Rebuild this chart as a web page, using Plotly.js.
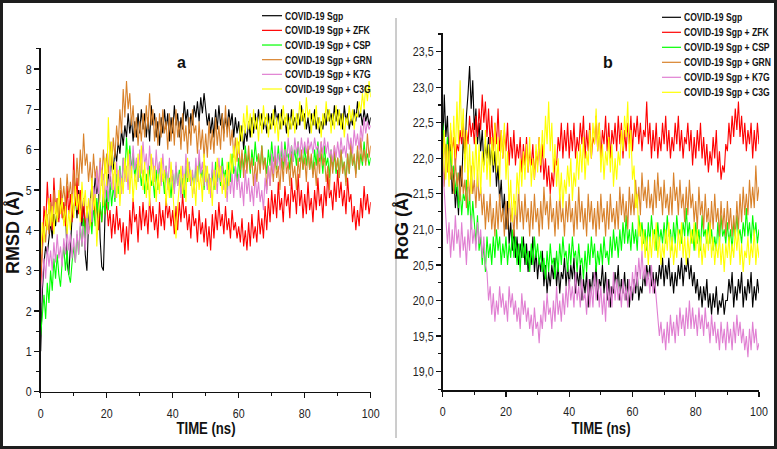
<!DOCTYPE html>
<html>
<head>
<meta charset="utf-8">
<script src="https://cdn.plot.ly/plotly-3.0.1.min.js"></script>
<style>html,body{margin:0;padding:0;background:#fff;}#chart{width:777px;height:449px;}</style>
</head>
<body>
<div id="chart"></div>
<script>
// ---------- data ----------
const SERIES_NAMES = ["COVID-19 Sgp", "COVID-19 Sgp + ZFK", "COVID-19 Sgp + CSP", "COVID-19 Sgp + GRN", "COVID-19 Sgp + K7G", "COVID-19 Sgp + C3G"];
const SERIES_COLORS = ["#000000", "#ff0000", "#00ff00", "#d9822b", "#e07fd2", "#ffff00"];
const TIME_STEP_NS = 0.5;   // sampling interval of the trajectories (0 .. 100 ns)
const X_TICKS = [0, 20, 40, 60, 80, 100];

// RMSD (Å), panel a
const rmsd_sgp = [
1.0,2.5,3.2,3.6,3.4,3.9,4.2,3.8,4.4,4.1,4.6,4.3,4.8,4.5,4.2,4.7,3.2,2.9,3.6,4.3,
4.5,4.9,4.3,5.0,4.6,4.1,4.8,3.4,3.0,4.2,4.7,5.1,4.8,5.3,4.9,5.2,3.8,3.1,3.0,4.4,
4.8,5.4,5.2,5.8,5.5,6.0,5.7,6.2,5.9,6.5,6.1,6.6,6.3,6.9,6.4,6.8,6.2,6.7,6.3,6.9,
6.4,7.0,6.5,6.9,6.3,6.8,6.2,7.1,6.6,6.9,6.3,6.7,6.1,6.8,6.4,7.0,6.5,6.9,6.2,6.8,
6.4,7.1,6.6,6.9,6.3,6.8,6.5,7.2,6.7,7.0,6.4,6.9,6.6,7.1,6.8,7.2,6.7,7.3,6.9,7.4,
7.0,6.6,6.9,6.4,6.8,6.3,7.0,6.5,7.1,6.6,6.9,6.4,6.8,6.5,7.0,6.6,6.9,6.3,6.8,6.4,
6.7,6.2,6.6,6.0,6.5,6.2,6.7,6.3,6.8,6.4,6.9,6.5,7.0,6.6,6.9,6.5,6.8,6.4,6.9,6.5,
6.9,6.6,7.1,6.7,6.9,6.5,7.0,6.6,6.8,6.4,6.9,6.5,7.0,6.6,6.8,6.5,6.9,6.6,7.1,6.7,
6.9,6.5,6.8,6.4,6.9,6.6,7.0,6.5,6.8,6.4,6.7,6.5,6.9,6.6,7.0,6.7,6.9,6.6,7.1,6.7,
7.0,6.6,6.9,6.5,7.1,6.7,6.9,6.5,6.8,6.6,7.0,6.7,7.2,6.8,6.9,6.6,7.0,6.7,6.9,6.6,6.8];
const rmsd_zfk = [
2.6,3.8,4.6,4.1,5.2,4.4,4.9,4.0,5.3,4.5,4.8,4.2,5.0,4.3,4.7,4.1,5.1,4.4,4.9,4.2,
5.9,4.6,5.3,4.4,5.0,4.2,4.8,4.0,4.6,3.9,4.5,4.1,4.9,4.3,4.7,4.0,4.6,4.2,4.9,4.4,
4.7,4.1,4.5,3.8,4.4,3.9,4.6,4.0,4.3,3.7,4.2,3.4,4.1,3.5,4.5,3.9,4.8,4.2,4.4,3.7,
4.6,4.0,4.7,4.1,4.5,3.9,4.8,4.2,4.6,4.0,4.4,3.8,4.7,4.1,4.5,4.0,4.8,4.3,4.6,4.1,
4.5,3.9,4.6,4.0,4.7,4.2,4.9,4.3,4.6,4.0,4.4,3.8,4.6,4.1,4.3,3.7,4.5,3.9,4.2,3.7,
4.3,3.6,4.1,3.5,4.4,3.8,4.5,4.0,4.7,4.1,4.4,3.9,4.6,4.0,4.3,3.8,4.5,4.0,4.2,3.8,
4.1,3.7,4.3,3.6,4.0,3.5,4.2,3.6,4.4,3.8,4.1,3.7,4.5,3.9,4.3,3.8,4.6,4.0,4.8,4.2,
5.0,4.4,4.9,4.3,5.2,4.5,4.8,4.2,5.1,4.6,4.9,4.3,5.3,4.7,5.0,4.4,5.4,4.6,5.0,4.3,
4.9,4.4,5.2,4.5,4.8,4.2,5.0,4.5,5.3,4.6,4.9,4.3,5.1,4.6,5.4,4.8,5.0,4.5,5.2,4.7,
5.5,4.8,5.2,4.6,5.0,4.4,5.3,4.7,4.9,4.2,4.6,4.0,4.5,4.1,4.8,4.3,5.1,4.5,4.9,4.4,4.7];
const rmsd_csp = [
1.4,2.0,2.4,1.8,2.7,2.2,3.0,2.5,3.3,2.8,3.4,2.9,2.6,3.2,3.6,3.0,3.5,2.9,2.7,3.2,
3.6,3.2,3.9,3.4,4.1,3.6,4.3,3.8,4.5,4.0,4.4,3.9,4.6,4.1,4.8,4.3,4.7,4.2,4.9,4.4,
5.0,4.5,5.2,4.6,5.1,4.7,5.4,4.9,5.6,5.0,5.8,5.3,6.3,5.6,6.1,5.5,5.9,5.3,5.7,5.2,
5.6,5.1,5.5,4.9,5.4,5.0,5.6,5.1,5.3,4.8,5.5,5.0,5.7,5.2,5.4,4.9,5.6,5.1,5.3,4.8,
5.4,5.0,5.6,5.1,5.5,4.9,5.3,4.8,5.6,5.2,5.7,5.1,5.4,5.0,5.6,5.2,5.8,5.3,5.5,5.0,
5.6,5.1,5.4,4.9,5.5,5.0,5.7,5.2,5.6,5.1,5.8,5.3,5.5,5.0,5.7,5.2,5.9,5.4,5.6,5.2,
5.8,5.3,5.9,5.5,6.1,5.6,5.9,5.4,6.0,5.6,6.2,5.7,5.9,5.5,6.1,5.6,5.8,5.4,6.0,5.6,
6.2,5.7,5.9,5.5,6.1,5.6,6.0,5.5,6.2,5.8,5.9,5.5,6.1,5.7,6.0,5.6,6.2,5.7,5.9,5.5,
6.1,5.6,6.0,5.5,5.8,5.4,6.0,5.6,6.2,5.7,5.9,5.4,6.1,5.6,5.8,5.3,6.0,5.5,5.9,5.4,
5.8,5.3,6.0,5.5,5.7,5.2,5.9,5.4,6.1,5.6,5.8,5.4,6.0,5.5,5.9,5.6,6.2,5.7,5.9,5.6,5.8];
const rmsd_grn = [
2.9,3.6,4.1,3.7,4.4,3.9,4.7,4.2,5.0,4.4,4.8,4.3,5.3,4.7,5.1,4.6,5.4,4.8,5.2,4.7,
5.5,4.9,5.8,5.1,6.0,5.4,6.4,5.6,5.9,5.2,5.7,5.1,5.9,5.3,5.6,5.0,5.8,5.2,6.0,5.4,
5.9,5.4,6.2,5.6,6.3,5.8,6.6,6.1,7.0,6.4,7.5,6.8,7.7,7.0,7.4,6.6,7.1,6.3,6.8,6.1,
6.7,6.2,6.9,6.3,7.1,6.5,7.4,6.6,7.0,6.2,6.8,6.1,6.9,6.3,7.0,6.4,6.7,6.0,6.9,6.2,
6.8,6.1,7.0,6.3,6.7,6.0,6.9,6.2,6.6,5.9,6.8,6.1,7.0,6.4,6.6,5.9,6.7,6.0,6.5,5.8,
6.4,5.8,6.7,6.0,6.5,5.9,6.8,6.1,6.6,6.0,6.9,6.2,7.1,6.3,6.8,6.1,6.5,5.8,6.3,5.7,
6.2,5.5,6.0,5.3,5.9,5.4,6.1,5.5,5.8,5.1,5.7,5.2,5.9,5.4,6.1,5.5,5.8,5.0,5.6,5.1,
5.7,5.2,5.9,5.3,5.6,5.0,5.8,5.2,6.0,5.4,5.7,5.1,5.9,5.3,5.6,5.0,5.8,5.3,6.0,5.5,
5.8,5.2,6.1,5.5,5.9,5.3,5.7,5.1,5.9,5.4,6.2,5.6,5.8,5.2,5.6,5.0,5.9,5.4,6.1,5.5,
5.8,5.3,6.0,5.4,5.7,5.1,5.9,5.4,6.2,5.6,5.9,5.3,6.1,5.5,6.3,5.7,6.0,5.6,6.4,5.8,6.1];
const rmsd_k7g = [
2.2,2.9,3.3,2.8,3.6,3.1,3.5,3.0,3.7,3.2,3.9,3.3,3.6,3.1,3.8,3.4,4.0,3.5,3.9,3.3,
3.8,3.2,4.0,3.4,4.2,3.6,4.1,3.5,4.4,3.9,4.8,4.2,5.1,4.6,5.5,4.9,5.7,5.1,5.4,4.8,
5.3,4.7,5.6,5.0,5.4,4.8,5.7,5.1,5.5,4.9,5.8,5.2,5.6,5.0,5.9,5.3,6.1,5.5,5.8,5.2,
6.0,5.4,6.2,5.6,5.9,5.3,6.1,5.5,5.8,5.2,6.0,5.4,5.7,5.1,5.9,5.3,5.6,5.0,5.8,5.2,
5.5,4.9,5.7,5.1,5.4,4.8,5.6,5.0,5.9,5.3,5.7,5.1,5.5,4.9,5.8,5.2,6.0,5.4,5.7,5.1,
5.6,5.0,5.4,4.8,5.7,5.1,5.5,4.9,5.8,5.2,5.6,5.0,5.3,4.7,5.5,4.9,5.4,4.8,5.6,5.0,
5.4,4.8,5.2,4.6,5.5,4.9,5.3,4.7,5.1,4.6,5.4,4.8,5.2,4.7,5.0,4.5,5.3,4.9,5.6,5.1,
5.9,5.4,6.1,5.6,5.9,5.5,6.2,5.7,6.0,5.6,6.3,5.8,6.1,5.7,6.3,5.9,6.2,5.8,6.3,5.9,
6.2,5.9,6.3,6.0,6.2,5.9,6.3,6.0,6.1,5.8,6.2,5.9,6.3,5.9,6.2,5.8,6.0,5.7,6.1,5.8,
6.2,5.8,6.3,5.9,6.1,5.8,6.4,6.0,6.3,5.9,6.5,6.1,6.4,6.0,6.6,6.2,6.8,6.4,6.7,6.5,6.6];
const rmsd_c3g = [
3.4,4.2,3.7,4.5,4.0,4.8,4.1,4.6,3.9,4.7,4.2,5.0,4.4,4.8,4.1,4.6,3.9,4.5,4.0,4.9,
4.3,5.1,4.5,4.9,4.2,5.2,4.6,5.0,4.3,4.8,4.1,5.3,4.5,4.9,3.6,4.4,4.8,5.5,4.6,5.8,
5.1,6.8,5.6,6.2,5.0,5.7,4.8,5.5,4.6,5.3,4.9,5.8,5.2,6.0,4.9,5.6,4.7,5.4,5.0,5.9,
5.3,6.1,5.0,5.7,4.8,5.5,4.6,5.9,5.1,5.6,4.7,5.4,4.9,5.8,5.2,5.5,4.6,5.3,4.8,5.7,
5.0,4.4,3.8,4.6,5.1,5.6,4.9,5.4,4.7,5.8,5.2,5.5,4.8,5.3,4.6,5.6,5.0,5.4,4.7,5.9,
5.2,5.6,4.9,5.3,4.6,5.5,5.0,5.8,5.3,5.6,4.9,5.4,4.8,5.7,5.1,5.9,5.4,6.1,5.6,6.3,
5.9,6.6,6.2,6.9,6.4,7.1,6.5,6.9,6.3,7.0,6.5,6.8,6.2,6.9,6.4,7.1,6.6,6.9,6.3,6.8,
6.5,7.0,6.4,6.8,6.2,6.9,6.5,7.1,6.6,6.9,6.3,6.8,6.5,7.0,6.4,6.9,6.6,7.2,6.7,7.0,
6.5,7.3,6.8,7.0,6.4,6.9,6.6,7.1,6.5,6.8,6.3,6.9,6.6,7.2,6.7,7.0,6.4,6.9,6.5,7.1,
6.6,7.0,6.5,6.9,6.3,6.8,6.6,7.1,6.7,7.0,6.5,6.9,6.8,7.2,6.9,7.4,7.0,7.6,7.2,7.7,7.3];

// RoG (Å), panel b
const rog_sgp = [
22.1,22.9,22.3,22.6,21.9,22.2,21.5,21.8,21.3,21.6,21.2,21.9,21.6,22.3,22.0,22.6,22.9,23.3,22.7,23.1,
22.4,22.7,22.2,22.5,22.1,22.4,21.9,22.2,22.0,22.3,21.9,22.2,21.8,22.1,21.6,21.9,21.4,21.7,21.2,21.5,
21.0,21.4,20.8,21.1,20.7,21.0,20.6,20.9,20.5,20.8,20.6,20.9,20.5,20.8,20.4,20.7,20.5,20.9,20.4,20.7,
20.3,20.6,20.4,20.7,20.2,20.5,20.1,20.4,20.2,20.5,20.3,20.6,20.2,20.5,20.1,20.4,20.3,20.6,20.2,20.5,
20.2,20.5,20.3,20.6,20.1,20.4,20.2,20.5,20.0,20.3,20.1,20.4,19.9,20.3,20.1,20.4,20.2,20.5,20.0,20.3,
20.2,20.5,20.1,20.4,20.0,20.3,19.9,20.2,20.1,20.4,20.2,20.5,20.0,20.3,20.1,20.4,20.0,20.3,19.9,20.2,
20.0,20.3,20.1,20.4,20.0,20.2,20.1,20.4,20.2,20.5,20.3,20.5,20.2,20.4,20.1,20.4,20.2,20.5,20.3,20.6,
20.2,20.5,20.3,20.6,20.2,20.4,20.1,20.4,20.2,20.5,20.3,20.6,20.2,20.5,20.4,20.6,20.3,20.5,20.2,20.4,
20.1,20.3,20.0,20.2,19.9,20.2,20.0,20.3,19.9,20.1,19.8,20.1,19.9,20.2,19.8,20.0,19.9,20.1,19.8,20.0,
20.0,20.3,20.1,20.4,19.9,20.2,20.0,20.3,20.1,20.4,19.9,20.2,20.0,20.3,20.1,20.4,19.9,20.2,20.0,20.3,20.1];
const rog_zfk = [
22.0,22.3,21.9,22.2,22.0,22.4,22.1,22.3,21.9,22.2,22.1,22.4,22.2,22.5,22.1,22.4,22.2,22.6,22.3,22.5,
22.2,22.6,22.3,22.7,22.4,22.9,22.5,22.8,22.3,22.7,22.2,22.6,22.1,22.5,22.2,22.7,22.1,22.4,22.0,22.4,
22.1,22.5,21.9,22.3,22.0,22.4,21.9,22.2,22.0,22.3,21.8,22.2,21.9,22.3,21.8,22.1,21.9,22.2,21.7,22.1,
21.9,22.3,21.8,22.2,21.7,22.0,21.6,21.9,21.5,21.8,21.6,22.0,21.9,22.3,22.1,22.5,22.0,22.4,22.1,22.5,
22.0,22.4,22.1,22.5,22.0,22.3,22.1,22.5,22.2,22.6,22.0,22.4,22.1,22.5,22.0,22.3,22.2,22.6,22.1,22.5,
22.0,22.4,22.2,22.6,22.1,22.5,22.0,22.4,22.2,22.5,22.1,22.6,22.2,22.5,22.0,22.4,22.1,22.5,22.2,22.6,
22.1,22.5,22.3,22.6,22.2,22.5,22.1,22.4,22.3,22.8,22.2,22.5,22.0,22.4,22.1,22.5,22.0,22.3,22.1,22.5,
22.2,22.6,22.1,22.4,22.0,22.3,22.1,22.5,22.2,22.6,22.1,22.4,22.0,22.3,22.2,22.5,22.1,22.4,21.9,22.3,
22.0,22.4,22.1,22.5,22.0,22.3,21.9,22.2,21.8,22.1,21.9,22.3,22.0,22.4,21.8,22.1,21.7,21.9,21.8,22.2,
22.1,22.5,22.2,22.6,22.3,22.7,22.4,22.8,22.3,22.6,22.2,22.5,22.1,22.4,22.2,22.5,22.0,22.4,22.1,22.5,22.2];
const rog_csp = [
22.5,22.2,22.0,22.3,21.8,22.1,21.7,21.9,21.5,21.8,21.3,21.6,21.2,21.5,21.4,21.7,21.2,21.5,21.0,21.4,
21.1,20.8,21.2,20.7,20.9,20.5,20.8,20.4,20.9,20.6,20.8,20.5,20.9,20.6,21.0,20.7,20.9,20.5,20.8,20.6,
20.9,20.5,20.8,20.6,21.0,20.6,20.9,20.5,20.8,20.4,20.9,20.6,20.8,20.5,20.7,20.4,20.8,20.5,20.9,20.6,
20.8,20.5,20.7,20.4,20.6,20.3,20.7,20.4,20.8,20.5,20.6,20.3,20.7,20.4,20.8,20.5,20.9,20.6,20.7,20.4,
20.8,20.5,20.9,20.6,20.7,20.4,20.8,20.5,20.6,20.3,20.7,20.4,20.8,20.5,20.9,20.6,20.8,20.4,20.7,20.5,
20.8,20.5,20.9,20.6,20.7,20.5,20.9,20.6,21.0,20.7,20.9,20.6,21.0,20.7,21.1,20.8,21.2,20.8,21.0,20.7,
21.1,20.8,21.0,20.7,21.2,20.9,21.1,20.8,21.0,20.7,21.1,20.8,21.2,20.9,21.0,20.7,21.1,20.8,21.0,20.8,
21.1,20.8,21.2,20.9,21.0,20.7,21.1,20.8,21.2,20.9,21.0,20.8,21.1,20.9,21.3,20.9,21.1,20.8,21.0,20.7,
21.1,20.8,21.0,20.7,21.2,20.9,21.0,20.8,21.1,20.8,21.0,20.7,20.9,20.7,21.1,20.8,21.2,20.9,21.0,20.8,
21.1,20.8,21.0,20.7,21.1,20.9,21.2,20.9,21.0,20.8,21.1,20.9,21.3,20.9,21.1,20.8,21.2,20.9,21.1,20.8,21.0];
const rog_grn = [
22.0,21.6,22.2,21.8,22.1,21.7,21.9,21.5,22.0,21.6,21.8,21.4,21.9,21.5,21.7,21.3,21.8,21.4,21.9,21.5,
21.7,21.3,21.8,21.4,21.6,21.2,21.5,21.0,21.4,21.1,21.5,21.0,21.3,20.9,21.4,21.0,21.5,21.1,21.3,20.9,
21.4,21.0,21.5,21.1,21.3,20.9,21.4,21.0,21.6,21.1,21.4,21.0,21.5,21.1,21.3,20.9,21.4,21.0,21.5,21.1,
21.3,20.9,21.4,21.0,21.6,21.2,21.4,21.0,21.5,21.1,21.3,20.9,21.4,21.0,21.5,21.1,21.3,20.9,21.4,21.1,
21.5,21.1,21.3,20.9,21.4,21.0,21.6,21.1,21.4,21.0,21.3,20.9,21.5,21.1,21.4,21.0,21.3,20.9,21.4,21.0,
21.5,21.1,21.3,20.9,21.4,21.0,21.5,21.1,21.3,21.0,21.4,21.0,21.6,21.2,21.5,21.1,21.4,21.0,21.6,21.2,
21.5,21.2,21.7,21.3,21.6,21.2,21.8,21.4,21.6,21.3,21.7,21.3,21.5,21.2,21.7,21.3,21.8,21.4,21.6,21.2,
21.7,21.3,21.5,21.2,21.6,21.2,21.8,21.4,21.6,21.2,21.7,21.3,21.5,21.1,21.6,21.2,21.7,21.3,21.5,21.1,
21.4,21.0,21.6,21.2,21.4,21.0,21.5,21.1,21.3,20.9,21.4,21.0,21.5,21.1,21.3,20.9,21.4,21.0,21.3,20.9,
21.4,21.0,21.3,20.9,21.2,20.9,21.4,21.0,21.5,21.1,21.6,21.2,21.5,21.2,21.7,21.3,21.6,21.3,21.9,21.4,21.6];
const rog_k7g = [
21.9,21.5,21.2,20.8,21.1,20.6,21.0,20.7,21.2,20.8,21.0,20.6,21.1,20.7,20.9,20.5,21.0,20.7,21.2,20.8,
21.0,20.7,21.1,20.8,21.0,20.6,20.9,20.5,20.4,20.0,20.2,19.8,20.1,19.7,20.0,19.8,20.2,19.9,20.1,19.8,
20.0,19.7,20.2,19.9,20.1,19.8,20.0,19.7,19.9,19.6,20.1,19.8,20.0,19.7,19.9,19.6,19.8,19.5,19.9,19.6,
19.7,19.4,19.8,19.6,20.0,19.7,20.1,19.8,19.9,19.6,20.0,19.7,20.2,19.8,20.0,19.7,20.1,19.8,20.2,19.9,
20.3,20.0,20.2,19.9,20.4,20.0,20.2,19.9,20.3,20.0,20.1,19.8,20.3,19.9,20.2,19.9,20.4,20.0,20.3,19.9,
20.2,19.8,20.1,19.7,20.3,19.9,20.2,19.9,20.4,20.0,20.3,20.0,20.2,19.9,20.3,20.0,20.2,19.9,20.3,20.0,
20.4,20.1,20.5,20.2,20.6,20.3,20.7,20.3,20.5,20.2,20.4,20.1,20.5,20.1,20.3,20.0,19.8,19.5,19.7,19.4,
19.6,19.3,19.7,19.4,19.8,19.5,19.7,19.4,19.8,19.5,19.9,19.6,19.8,19.5,19.9,19.6,20.0,19.6,19.9,19.6,
19.8,19.5,19.9,19.6,19.8,19.5,19.9,19.6,19.7,19.4,19.8,19.5,19.7,19.4,19.6,19.3,19.7,19.4,19.6,19.3,
19.7,19.4,19.6,19.3,19.7,19.4,19.8,19.5,19.7,19.4,19.6,19.3,19.5,19.2,19.6,19.3,19.7,19.4,19.6,19.3,19.4];
const rog_c3g = [
21.8,22.4,21.7,22.2,21.6,22.5,21.9,22.6,22.0,22.8,22.2,23.1,22.3,22.7,21.8,22.4,21.6,22.2,21.5,22.1,
21.7,22.3,21.6,22.2,21.5,22.1,21.8,22.4,21.7,22.2,21.6,22.3,21.9,22.5,21.8,22.3,21.7,22.4,22.0,22.5,
21.7,22.1,21.3,21.7,21.1,21.5,21.2,21.8,21.5,22.0,21.6,22.1,21.7,22.2,21.8,22.3,21.6,22.0,21.7,22.2,
21.8,22.3,21.9,22.4,22.0,22.6,22.2,22.8,22.1,22.5,21.8,22.2,21.6,22.0,21.4,21.8,21.3,21.7,21.5,21.9,
21.6,22.0,21.4,21.8,21.6,22.1,21.7,22.2,21.8,22.3,21.7,22.1,21.9,22.4,22.0,22.5,22.2,22.7,22.1,22.5,
21.8,22.2,21.7,22.1,21.9,22.3,21.8,22.2,21.6,22.0,21.7,22.1,21.9,22.4,22.1,22.6,22.3,22.8,22.0,22.4,
21.7,21.9,21.3,21.5,20.9,21.1,20.7,21.0,20.6,20.9,20.5,20.9,20.6,21.0,20.7,21.1,20.6,20.9,20.5,20.8,
20.6,21.0,20.7,21.1,20.6,20.9,20.5,20.8,20.6,21.0,20.7,21.1,20.6,20.9,20.5,20.9,20.6,21.0,20.8,21.1,
20.7,21.0,20.6,20.9,20.5,20.8,20.6,21.0,20.7,21.1,20.6,20.9,20.5,20.8,20.6,20.9,20.5,20.8,20.4,20.8,
20.6,20.9,20.5,20.8,20.6,21.0,20.7,21.0,20.5,20.8,20.4,20.7,20.6,20.9,20.5,20.8,20.6,21.0,20.5,20.8,20.6];

const RMSD_SERIES = [rmsd_sgp, rmsd_zfk, rmsd_csp, rmsd_grn, rmsd_k7g, rmsd_c3g];
const ROG_SERIES = [rog_sgp, rog_zfk, rog_csp, rog_grn, rog_k7g, rog_c3g];

// ---------- build ----------
const W = 777, H = 449;
const px = v => v / W;
const py = v => 1 - v / H;
const TIME = rmsd_sgp.map((_, i) => i * TIME_STEP_NS);

const FONT = "'Liberation Sans', Arial, sans-serif";
const NARROW = 0.82;   // horizontal squeeze that imitates Arial Narrow (not installed)
const traces = [];
RMSD_SERIES.forEach((ys, k) => traces.push({
  x: TIME, y: ys, xaxis: 'x', yaxis: 'y', type: 'scatter', mode: 'lines',
  name: SERIES_NAMES[k], line: {color: SERIES_COLORS[k], width: 1.1}, showlegend: false, hoverinfo: 'skip'
}));
ROG_SERIES.forEach((ys, k) => traces.push({
  x: TIME, y: ys, xaxis: 'x2', yaxis: 'y2', type: 'scatter', mode: 'lines',
  name: SERIES_NAMES[k], line: {color: SERIES_COLORS[k], width: 1.1}, showlegend: false, hoverinfo: 'skip'
}));

const axisCommon = {
  showgrid: false, zeroline: false, showline: true, linecolor: '#111', linewidth: 1.5,
  ticks: 'outside', ticklen: 5, tickwidth: 1.2, tickcolor: '#111',
  tickfont: {family: FONT, size: 13, color: '#222'}, mirror: false
};
const layout = {
  width: W, height: H, margin: {l: 0, r: 0, t: 0, b: 0},
  paper_bgcolor: '#fff', plot_bgcolor: 'rgba(0,0,0,0)', showlegend: false,
  separators: ', ',
  xaxis: Object.assign({}, axisCommon, {domain: [px(40.7), px(370.7)], range: [0, 100], anchor: 'y',
    tickvals: X_TICKS, minor: {dtick: 10, ticks: 'outside', ticklen: 3, tickcolor: '#111'}, ticklabelstandoff: 4}),
  yaxis: Object.assign({}, axisCommon, {domain: [py(391.6), py(48)], range: [0, 8.52], anchor: 'x',
    dtick: 1, tick0: 0, minor: {dtick: 0.5, ticks: 'outside', ticklen: 3, tickcolor: '#111'}}),
  xaxis2: Object.assign({}, axisCommon, {domain: [px(442.7), px(759)], range: [0, 100], anchor: 'y2',
    tickvals: X_TICKS, minor: {dtick: 10, ticks: 'outside', ticklen: 3, tickcolor: '#111'}, ticklabelstandoff: 4}),
  yaxis2: Object.assign({}, axisCommon, {domain: [py(390), py(33.3)], range: [18.74, 23.76], anchor: 'x2',
    dtick: 0.5, tick0: 19, tickformat: '.1f', minor: {dtick: 0.25, ticks: 'outside', ticklen: 3, tickcolor: '#111'}}),
  shapes: [], annotations: []
};
const SQUEEZE = [];   // per-annotation horizontal squeeze factor
const LEFT_ALIGNED = [];

// frame and divider
layout.shapes.push({type: 'rect', xref: 'paper', yref: 'paper', x0: 0, x1: 1, y0: 0, y1: 1,
  line: {color: '#1e1e1e', width: 6}});
layout.shapes.push({type: 'line', xref: 'paper', yref: 'paper', x0: px(396), x1: px(396), y0: py(438), y1: py(18),
  line: {color: '#9a9a9a', width: 1}});

// legends (built from the series names / colours)
function addLegend(lineX0, lineX1, textX, y0, dy) {
  SERIES_NAMES.forEach((nm, k) => {
    const y = y0 + dy * k;
    layout.shapes.push({type: 'line', xref: 'paper', yref: 'paper', x0: px(lineX0), x1: px(lineX1), y0: py(y), y1: py(y),
      line: {color: SERIES_COLORS[k], width: 1.2}});
    layout.annotations.push({xref: 'paper', yref: 'paper', x: px(textX), y: py(y), xanchor: 'left', yanchor: 'middle',
      align: 'left', borderpad: 0, text: nm, showarrow: false,
      font: {family: FONT, size: 11, weight: 'bold', color: '#111'}});
    SQUEEZE.push(0.78);
    LEFT_ALIGNED.push(true);
  });
}
addLegend(262, 282, 284, 15.7, 14.66);
addLegend(662, 681, 683, 17.3, 15.0);

// panel labels and axis titles
const ann = (x, y, text, size, angle, sq) => {
  layout.annotations.push({xref: 'paper', yref: 'paper', x: px(x), y: py(y),
    xanchor: 'center', yanchor: 'middle', text: text, showarrow: false, textangle: angle || 0,
    font: {family: FONT, size: size, weight: 'bold', color: '#111'}});
  SQUEEZE.push(sq);
  LEFT_ALIGNED.push(false);
};
ann(181, 63, 'a', 16, 0, 1);
ann(608, 63, 'b', 16, 0, 1);
ann(206, 428, 'TIME (ns)', 16, 0, NARROW);
ann(601, 428, 'TIME (ns)', 16, 0, NARROW);
ann(13, 233, 'RMSD (Å)', 18, -90, 1);
ann(402, 226, 'RoG (Å)', 18, -90, 1);

function squeeze(el, f) {
  if (!(f < 1)) return 0;
  const w = el.getComputedTextLength();
  if (!w) return 0;
  el.setAttribute('textLength', (w * f).toFixed(2));
  el.setAttribute('lengthAdjust', 'spacingAndGlyphs');
  return w * (1 - f);
}

Plotly.newPlot('chart', traces, layout, {staticPlot: true, displayModeBar: false}).then(gd => {
  gd.querySelectorAll('.xtick text, .ytick text, .x2tick text, .y2tick text').forEach(el => squeeze(el, NARROW));
  gd.querySelectorAll('.annotation').forEach(g => {
    const idx = +g.getAttribute('data-index');
    const el = g.querySelector('text');
    if (!el) return;
    const saved = squeeze(el, SQUEEZE[idx]);
    if (!saved) return;
    // keep the annotation box in step with the narrower text
    g.querySelectorAll('rect').forEach(r => {
      const rw = parseFloat(r.getAttribute('width'));
      if (!(rw > 0)) return;
      r.setAttribute('width', Math.max(0, rw - saved));
      if (!LEFT_ALIGNED[idx]) r.setAttribute('x', parseFloat(r.getAttribute('x') || 0) + saved / 2);
    });
  });
});
</script>
</body>
</html>
